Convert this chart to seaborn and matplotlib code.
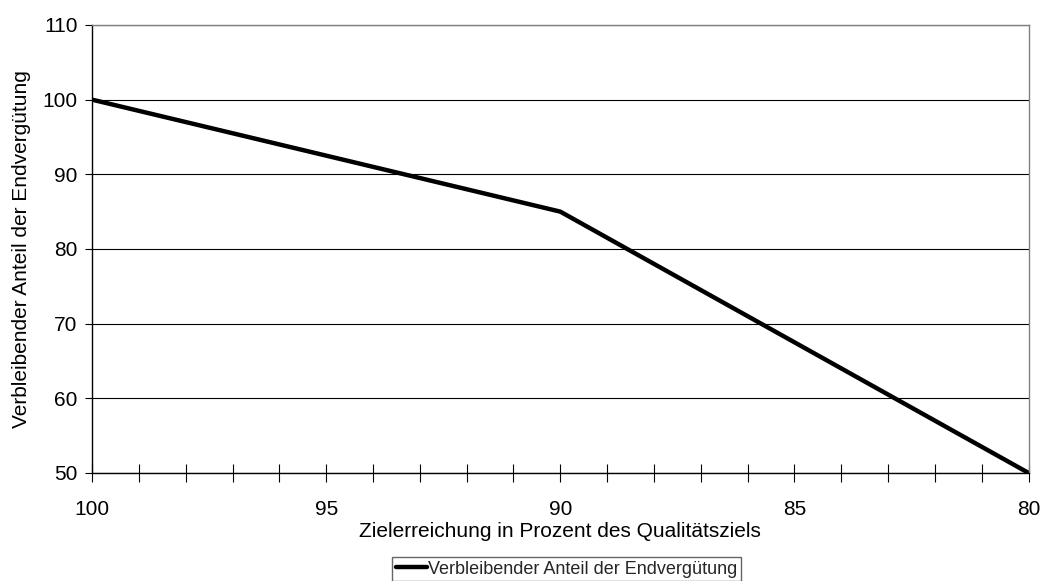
import matplotlib
matplotlib.use("Agg")
import numpy as np
import pandas as pd
import matplotlib.pyplot as plt
import seaborn as sns

# Zielerreichung (x) und verbleibender Anteil (y)
zielerreichung = [100, 99, 98, 97, 96, 95, 94, 93, 92, 91, 90,
                  89, 88, 87, 86, 85, 84, 83, 82, 81, 80]
anteil = [100, 98.5, 97, 95.5, 94, 92.5, 91, 89.5, 88, 86.5, 85,
          81.5, 78, 74.5, 71, 67.5, 64, 60.5, 57, 53.5, 50]
series_name = "Verbleibender Anteil der Endvergütung"

df = pd.DataFrame({'x': zielerreichung, 'y': anteil, 'serie': series_name})

sns.set_style("white")
plt.rcParams['font.family'] = ['Liberation Sans', 'DejaVu Sans']

fig = plt.figure(figsize=(10.4, 5.81), dpi=100)
ax = fig.add_axes([0.0885, 0.186, 0.9005, 0.771])

sns.lineplot(data=df, x='x', y='y', hue='serie', palette=['black'], linewidth=3.2, ax=ax)

ax.set_xlim(100, 80)
ax.set_ylim(50, 110)
ax.set_xticks([100, 95, 90, 85, 80])
ax.set_xticks(np.arange(80, 101, 1), minor=True)
ax.set_yticks(np.arange(50, 111, 10))
ax.yaxis.grid(True, color='black', linewidth=0.8)
ax.set_axisbelow(True)

for s in ['top', 'right']:
    ax.spines[s].set_color('#808080')
    ax.spines[s].set_linewidth(1)
for s in ['left', 'bottom']:
    ax.spines[s].set_color('black')
    ax.spines[s].set_linewidth(1)

ax.tick_params(axis='x', which='both', bottom=True, direction='inout', length=13, width=0.8,
               color='black', labelsize=15, labelcolor='black')
ax.tick_params(axis='x', which='major', pad=13)
ax.tick_params(axis='y', which='major', left=True, direction='out', length=5, width=0.8,
               color='black', labelsize=15, labelcolor='black', pad=5.5)

ax.set_xlabel("Zielerreichung in Prozent des Qualitätsziels", fontsize=15, labelpad=2, color='black')
ax.set_ylabel("Verbleibender Anteil der Endvergütung", fontsize=15, labelpad=8, color='black')

leg = ax.legend(loc='upper center', bbox_to_anchor=(0.507, -0.1875), frameon=True, fancybox=False,
                fontsize=13, handlelength=1.7, handletextpad=0.1, borderpad=0.2,
                borderaxespad=0, edgecolor='#404040')
leg.get_frame().set_linewidth(1)
for line in leg.get_lines():
    line.set_linewidth(3.2)

fig.savefig("out.png", dpi=100)
